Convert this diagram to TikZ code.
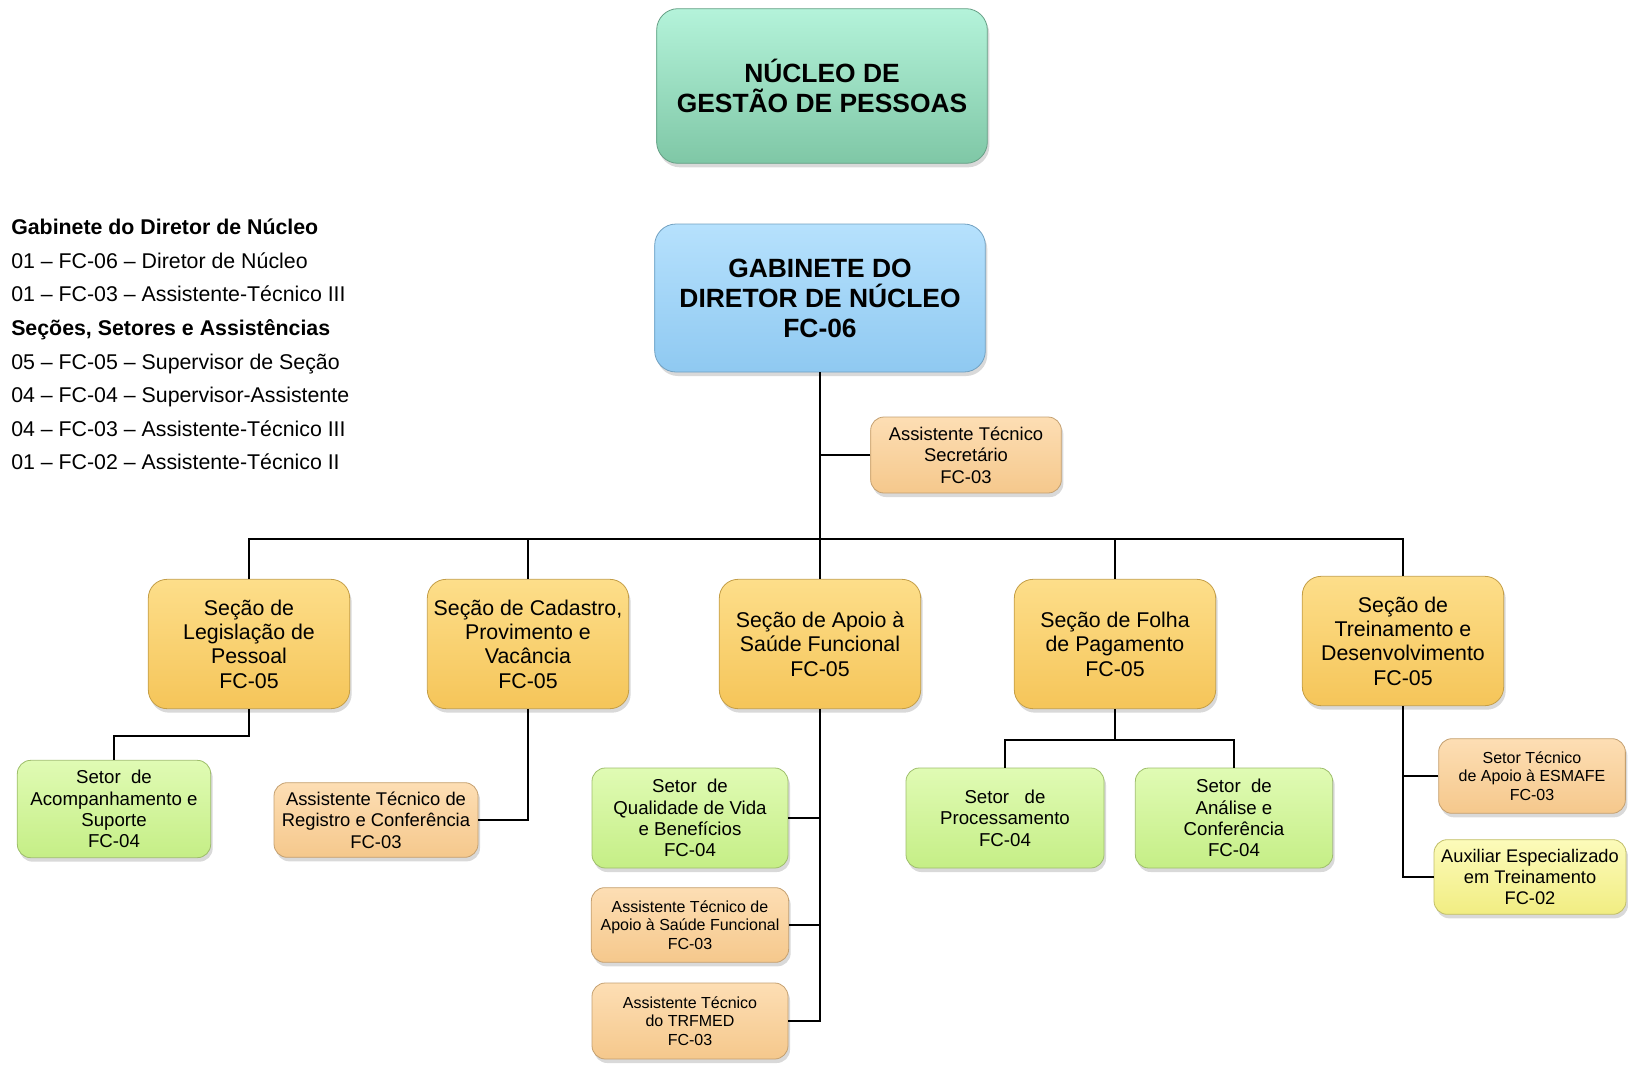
\documentclass[tikz,border=0pt]{standalone}
\usepackage{fontspec}
\setmainfont{Liberation Sans}
\usetikzlibrary{shadows}

\definecolor{mintT}{HTML}{B4F3DA}
\definecolor{mintB}{HTML}{7FC7A6}
\definecolor{skyT}{HTML}{B6E1FD}
\definecolor{skyB}{HTML}{8FC9F1}
\definecolor{goldT}{HTML}{FDDE8A}
\definecolor{goldB}{HTML}{F5C559}
\definecolor{peachT}{HTML}{FDDEB4}
\definecolor{peachB}{HTML}{F5C88C}
\definecolor{limeT}{HTML}{E0FBB4}
\definecolor{limeB}{HTML}{C5EE86}
\definecolor{lemonT}{HTML}{FCFBBA}
\definecolor{lemonB}{HTML}{F1ED82}

\begin{document}
\begin{tikzpicture}[x=0.75pt, y=-0.75pt,
    orgbox/.style={rounded corners=10pt, line width=0.6pt, align=center, inner sep=2pt,
        drop shadow={shadow xshift=1.5pt, shadow yshift=-3pt, opacity=0.3}},
    headbox/.style={orgbox, rounded corners=16pt, minimum width=248pt, font=\fontsize{19.8}{22.5}\selectfont\bfseries},
    secbox/.style={orgbox, rounded corners=14pt, draw=goldB!80!black, top color=goldT, bottom color=goldB,
        minimum width=151pt, minimum height=97pt, font=\fontsize{16}{18.3}\selectfont},
    setorbox/.style={orgbox, draw=limeB!80!black, top color=limeT, bottom color=limeB,
        minimum width=147pt, minimum height=74pt, font=\fontsize{14}{16}\selectfont},
    assistbox/.style={orgbox, draw=peachB!80!black, top color=peachT, bottom color=peachB,
        minimum width=147pt, minimum height=56pt, font=\fontsize{13.8}{16}\selectfont},
    auxbox/.style={orgbox, draw=lemonB!80!black, top color=lemonT, bottom color=lemonB,
        minimum width=144pt, minimum height=56pt, font=\fontsize{13.7}{16}\selectfont},
    smalltext/.style={font=\fontsize{12}{13.8}\selectfont},
    legend/.style={anchor=base west, inner sep=0pt, font=\fontsize{16}{18}\selectfont},
    link/.style={line width=1.5pt, black}]

    \useasboundingbox (0,0) rectangle (1628,1064);

    % Top boxes
    \node[headbox, minimum height=116pt, draw=mintB!80!black, top color=mintT, bottom color=mintB] (nucleo) at (822,86)
        {NÚCLEO DE\\GESTÃO DE PESSOAS};
    \node[headbox, minimum height=111pt, draw=skyB!80!black, top color=skyT, bottom color=skyB] (gab) at (820,298)
        {GABINETE DO\\DIRETOR DE NÚCLEO\\FC-06};
    \node[assistbox, minimum width=143pt, minimum height=57pt] (secret) at (966,455)
        {Assistente Técnico\\Secretário\\FC-03};

    % Legend
    \foreach \t [count=\i] in {{\textbf{Gabinete do Diretor de Núcleo}},
        {01 – FC-06 – Diretor de Núcleo},
        {01 – FC-03 – Assistente-Técnico III},
        {\textbf{Seções, Setores e Assistências}},
        {05 – FC-05 – Supervisor de Seção},
        {04 – FC-04 – Supervisor-Assistente},
        {04 – FC-03 – Assistente-Técnico III},
        {01 – FC-02 – Assistente-Técnico II}}
        \node[legend] (leg\i) at (11,201+33.6*\i) {\t};

    % Sections
    \node[secbox] (legis) at (249,644) {Seção de\\Legislação de\\Pessoal\\FC-05};
    \node[secbox] (cadastro) at (528,644) {Seção de Cadastro,\\Provimento e\\Vacância\\FC-05};
    \node[secbox] (apoio) at (820,644) {Seção de Apoio à\\Saúde Funcional\\FC-05};
    \node[secbox] (folha) at (1115,644) {Seção de Folha\\de Pagamento\\FC-05};
    \node[secbox] (trein) at (1403,641) {Seção de\\Treinamento e\\Desenvolvimento\\FC-05};

    % Setores and assistants
    \node[setorbox, minimum width=145pt, minimum height=73pt] (acomp) at (114,809)
        {Setor\ \ de\\Acompanhamento e\\Suporte\\FC-04};
    \node[assistbox, minimum width=153pt] (registro) at (376,820)
        {Assistente Técnico de\\Registro e Conferência\\FC-03};
    \node[setorbox, minimum height=75pt] (qualid) at (690,818)
        {Setor\ \ de\\Qualidade de Vida\\e Benefícios\\FC-04};
    \node[assistbox, smalltext, minimum width=148pt] (apsaude) at (690,925)
        {Assistente Técnico de\\Apoio à Saúde Funcional\\FC-03};
    \node[assistbox, smalltext, minimum height=57pt] (trfmed) at (690,1021)
        {Assistente Técnico\\do TRFMED\\FC-03};
    \node[setorbox, minimum width=148.5pt, minimum height=75pt] (process) at (1005,818)
        {Setor\ \ \ de\\Processamento\\FC-04};
    \node[setorbox, minimum width=148pt, minimum height=75pt] (analise) at (1234,818)
        {Setor\ \ de\\Análise e\\Conferência\\FC-04};
    \node[assistbox, smalltext, minimum width=140pt] (esmafe) at (1532,776)
        {Setor Técnico\\de Apoio à ESMAFE\\FC-03};
    \node[auxbox] (auxil) at (1530,877)
        {Auxiliar Especializado\\em Treinamento\\FC-02};

    % Connectors
    \coordinate (busL) at (249,539);
    \coordinate (busR) at (1403,539);
    \draw[link] (gab.south) -- (apoio.north);
    \draw[link] (secret.west) -- (secret.west -| gab.south);
    \draw[link] (legis.north) -- (busL) -- (busR) -- (trein.north);
    \draw[link] (cadastro.north) -- (cadastro.north |- busL);
    \draw[link] (folha.north) -- (folha.north |- busL);

    \draw[link] (legis.south) -- ++(0,27) -| (acomp.north);
    \draw[link] (cadastro.south) |- (registro.east);
    \draw[link] (apoio.south) |- (trfmed.east);
    \draw[link] (qualid.east) -- (qualid.east -| apoio.south);
    \draw[link] (apsaude.east) -- (apsaude.east -| apoio.south);
    \draw[link] (folha.south) -- ++(0,31) coordinate (folhaj);
    \draw[link] (process.north) |- (folhaj) -| (analise.north);
    \draw[link] (trein.south) |- (auxil.west);
    \draw[link] (esmafe.west) -- (esmafe.west -| trein.south);
\end{tikzpicture}
\end{document}
